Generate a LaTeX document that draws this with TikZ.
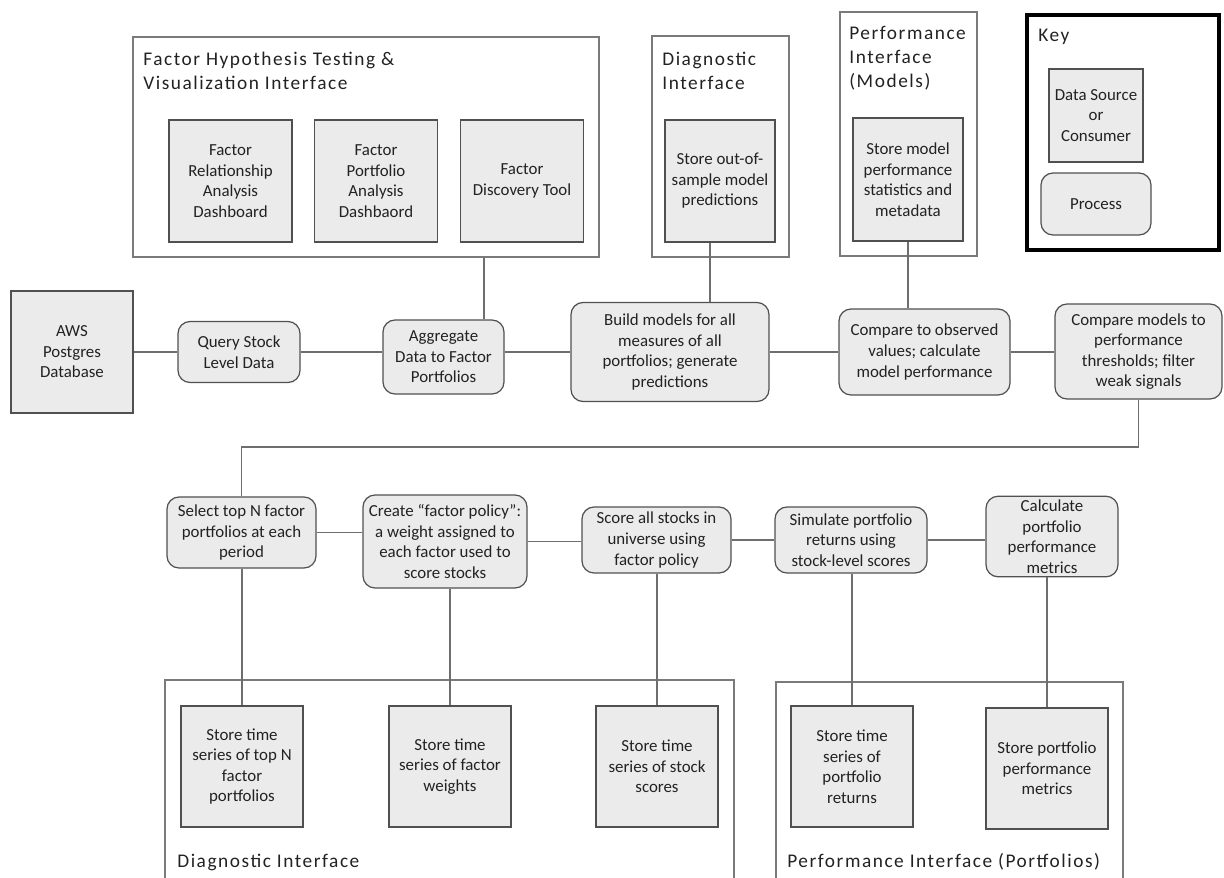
\documentclass[tikz,border=0pt]{standalone}
\usepackage{fontspec}
\setmainfont{Carlito}
\newfontfamily\fmtitlefont[LetterSpace=8]{Carlito}
\usetikzlibrary{calc}
\definecolor{fmLine}{HTML}{505050}
\definecolor{fmFill}{HTML}{EBEBEB}
\definecolor{fmLink}{HTML}{6E6E6E}
\definecolor{fmFrame}{HTML}{7A7A7A}
\definecolor{fmText}{HTML}{222222}
\newcommand{\fmbox}{\fontsize{9.6}{11.7}\selectfont}
\newcommand{\fmtitle}{\fmtitlefont\fontsize{11}{13.6}\selectfont}
\tikzset{
  dsbox/.style={rectangle, draw=fmLine, line width=0.7pt, fill=fmFill,
    align=center, font=\fmbox, text=fmText, inner sep=2pt},
  procbox/.style={dsbox, rounded corners=2.4mm},
  ifframe/.style={rectangle, draw=fmFrame, line width=0.8pt, inner sep=0pt},
  keyframe/.style={rectangle, draw=black, line width=1.8pt, inner sep=0pt},
  iftitle/.style={font=\fmtitle, text=fmText, align=left, inner sep=0pt, anchor=north west},
  link/.style={draw=fmLink, line width=1.1pt}
}

\begin{document}
\begin{tikzpicture}[x=0.2mm, y=-0.2mm]
    \useasboundingbox (0,0) rectangle (1224,877);
    \clip (0,0) rectangle (1224,877);

    \node[ifframe, minimum width=93.2mm, minimum height=44mm] (fhi) at (366,147) {};
    \node[ifframe, minimum width=27.4mm, minimum height=44.2mm] (dgt) at (720.5,146.5) {};
    \node[ifframe, minimum width=27.4mm, minimum height=48.8mm] (pmf) at (908.5,134) {};
    \node[keyframe, minimum width=38.4mm, minimum height=47mm] (key) at (1123,132.5) {};
    \node[ifframe, minimum width=113.8mm, minimum height=44mm] (dgb) at (449.5,790) {};
    \node[ifframe, minimum width=69.4mm, minimum height=43.6mm] (pfb) at (949.5,791) {};

    \node[iftitle] (fhiT) at (143,52) {Factor Hypothesis Testing \&\\Visualization Interface};
    \node[iftitle] (dgtT) at (662,52) {Diagnostic\\Interface};
    \node[iftitle] (pmfT) at (849,26) {Performance\\Interface\\(Models)};
    \node[iftitle] (keyT) at (1038,29) {Key};
    \node[iftitle, anchor=base west] (dgbT) at (177,867) {Diagnostic Interface};
    \node[iftitle, anchor=base west] (pfbT) at (787,867) {Performance Interface (Portfolios)};

    \node[dsbox, minimum width=24.6mm, minimum height=24.4mm] (frd) at (230.5,181) {Factor\\Relationship\\Analysis\\Dashboard};
    \node[dsbox, minimum width=24.6mm, minimum height=24.4mm] (fpd) at (376,181) {Factor\\Portfolio\\Analysis\\Dashbaord};
    \node[dsbox, minimum width=24.6mm, minimum height=24.4mm] (fdt) at (522,181) {Factor\\Discovery Tool};
    \node[dsbox, minimum width=22mm, minimum height=24.4mm] (ood) at (720,181) {Store out-of-\\sample model\\predictions};
    \node[dsbox, minimum width=22mm, minimum height=24.6mm] (mps) at (908,179.5) {Store model\\performance\\statistics and\\metadata};
    \node[dsbox, minimum width=18.8mm, minimum height=18.6mm] (dsrc) at (1096,115.5) {Data Source\\or\\Consumer};
    \node[procbox, minimum width=22mm, minimum height=12.4mm] (proc) at (1096,204) {Process};

    \node[dsbox, minimum width=24.4mm, minimum height=24.4mm] (aws) at (72,352) {AWS\\Postgres\\Database};
    \node[procbox, minimum width=24.4mm, minimum height=12.2mm] (qry) at (239,352) {Query Stock\\Level Data};
    \node[procbox, minimum width=24.2mm, minimum height=14.8mm] (agg) at (443.5,357) {Aggregate\\Data to Factor\\Portfolios};
    \node[procbox, minimum width=39.6mm, minimum height=19.8mm] (bld) at (670,352) {Build models for all\\measures of all\\portfolios; generate\\predictions};
    \node[procbox, minimum width=34.2mm, minimum height=17.2mm] (cmp) at (924.5,352) {Compare to observed\\values; calculate\\model performance};
    \node[procbox, minimum width=33.4mm, minimum height=19mm] (flt) at (1138.5,351.5) {Compare models to\\performance\\thresholds; filter\\weak signals};

    \node[procbox, minimum width=29.8mm, minimum height=14.2mm] (sel) at (241.5,532.5) {Select top N factor\\portfolios at each\\period};
    \node[procbox, minimum width=32.8mm, minimum height=18.6mm] (crt) at (445,541.5) {Create “factor policy”:\\a weight assigned to\\each factor used to\\score stocks};
    \node[procbox, minimum width=29.8mm, minimum height=13.2mm] (scr) at (656.5,540) {Score all stocks in\\universe using\\factor policy};
    \node[procbox, minimum width=30.4mm, minimum height=13.2mm] (sim) at (851,540) {Simulate portfolio\\returns using\\stock-level scores};
    \node[procbox, minimum width=26.4mm, minimum height=14.6mm] (clc) at (1052,536.5) {Calculate\\portfolio\\performance\\metrics};

    \node[dsbox, minimum width=24.4mm, minimum height=24.2mm] (tsn) at (242,766.5) {Store time\\series of top N\\factor\\portfolios};
    \node[dsbox, minimum width=24.4mm, minimum height=24.2mm] (tsw) at (450,766.5) {Store time\\series of factor\\weights};
    \node[dsbox, minimum width=24.4mm, minimum height=24.2mm] (tss) at (657,766.5) {Store time\\series of stock\\scores};
    \node[dsbox, minimum width=24.4mm, minimum height=24.2mm] (tsr) at (852,766.5) {Store time\\series of\\portfolio\\returns};
    \node[dsbox, minimum width=24.4mm, minimum height=24.2mm] (ppm) at (1047,768.5) {Store portfolio\\performance\\metrics};

    \draw[link] (aws) -- (qry);
    \draw[link] (qry.east) -- (qry.east -| agg.west);
    \draw[link] (qry.east -| agg.east) -- (qry.east -| bld.west);
    \draw[link] (bld) -- (cmp);
    \draw[link] (cmp.east) -- (cmp.east -| flt.west);
    \draw[link] ([xshift=8.1mm]agg.north) -- ([xshift=8.1mm]agg.north |- fhi.south);
    \draw[link] ([xshift=-2mm]ood.south) -- ([xshift=-2mm]ood.south |- bld.north);
    \draw[link] (mps.south) -- (mps.south |- cmp.north);

    \coordinate (turn) at (241.5,447);
    \draw[link] (flt.south) |- (turn) -- (sel.north);
    \draw[link] (sel.east) -- (sel.east -| crt.west);
    \draw[link] (crt.east) -- (crt.east -| scr.west);
    \draw[link] (scr) -- (sim);
    \draw[link] (sim.east) -- (sim.east -| clc.west);

    \draw[link] (tsn.north) -- (tsn.north |- sel.south);
    \draw[link] (tsw.north) -- (tsw.north |- crt.south);
    \draw[link] (tss.north) -- (tss.north |- scr.south);
    \draw[link] (tsr.north) -- (tsr.north |- sim.south);
    \draw[link] (ppm.north) -- (ppm.north |- clc.south);
\end{tikzpicture}
\end{document}
